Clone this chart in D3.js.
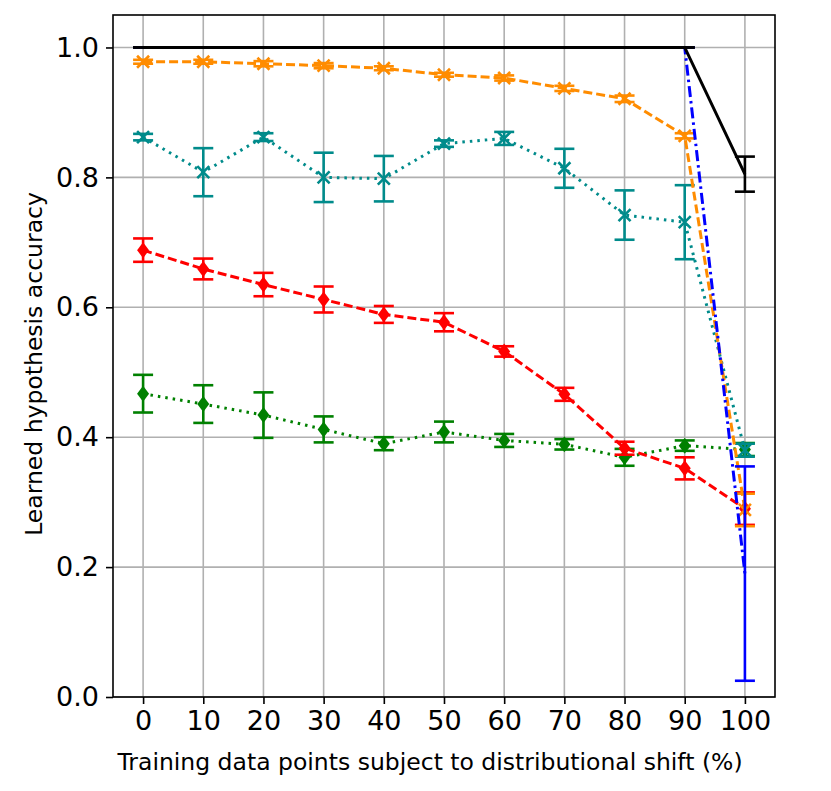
<!DOCTYPE html>
<html><head><meta charset="utf-8">
<script src="https://cdn.jsdelivr.net/npm/d3@7"></script>
<style>body{margin:0;background:#fff}</style></head>
<body><svg id="c" width="831" height="791"></svg>
<script>
"use strict";
var xs = [0, 10, 20, 30, 40, 50, 60, 70, 80, 90, 100];
var blueY = [1, 1, 1, 1, 1, 1, 1, 1, 1, 1, 0.19];
var blueE = [0, 0, 0, 0, 0, 0, 0, 0, 0, 0, 0.165];
var blackY = [1, 1, 1, 1, 1, 1, 1, 1, 1, 1, 0.805];
var blackE = [0, 0, 0, 0, 0, 0, 0, 0, 0, 0, 0.027];
var orangeY = [0.978, 0.978, 0.975, 0.972, 0.968, 0.958, 0.953, 0.937, 0.921, 0.864, 0.288];
var orangeE = [0.003, 0.003, 0.004, 0.004, 0.003, 0.003, 0.004, 0.004, 0.005, 0.004, 0.025];
var tealY = [0.862, 0.808, 0.862, 0.80, 0.798, 0.852, 0.86, 0.814, 0.742, 0.731, 0.38];
var tealE = [0.005, 0.037, 0.006, 0.038, 0.035, 0.005, 0.01, 0.03, 0.038, 0.057, 0.01];
var redY = [0.688, 0.659, 0.635, 0.612, 0.589, 0.577, 0.532, 0.466, 0.383, 0.352, 0.29];
var redE = [0.018, 0.016, 0.018, 0.02, 0.013, 0.014, 0.008, 0.01, 0.01, 0.017, 0.025];
var greenY = [0.467, 0.451, 0.434, 0.412, 0.39, 0.408, 0.395, 0.389, 0.369, 0.387, 0.381];
var greenE = [0.029, 0.029, 0.035, 0.02, 0.01, 0.016, 0.01, 0.008, 0.013, 0.008, 0.01];
var yTicks = [0, 0.2, 0.4, 0.6, 0.8, 1.0];

var series = [
  {y: greenY, e: greenE, color: "green", dash: "2.5,5", marker: "d"},
  {y: redY, e: redE, color: "red", dash: "9,4", marker: "d"},
  {y: tealY, e: tealE, color: "#008b8b", dash: "2.5,5", marker: "x"},
  {y: orangeY, e: orangeE, color: "darkorange", dash: "9,4", marker: "x"},
  {y: blueY, e: blueE, color: "blue", dash: "11,4,2.5,4", marker: null},
  {y: blackY, e: blackE, color: "black", dash: null, marker: null}
];

var L = 113, R = 775, T = 15, B = 697;
var svg = d3.select("#c");
var x = d3.scaleLinear().domain([-5, 105]).range([L, R]);
var y = d3.scaleLinear().domain([0, 1.05]).range([B, T]);
var font = "DejaVu Sans, sans-serif";

var grid = svg.append("g").attr("stroke", "#b0b0b0").attr("stroke-width", 1.6);
xs.forEach(function(v) { grid.append("line").attr("x1", x(v)).attr("x2", x(v)).attr("y1", T).attr("y2", B); });
yTicks.forEach(function(v) { grid.append("line").attr("y1", y(v)).attr("y2", y(v)).attr("x1", L).attr("x2", R); });

var clip = svg.append("clipPath").attr("id", "pc").append("rect")
  .attr("x", L).attr("y", T).attr("width", R - L).attr("height", B - T);
var plot = svg.append("g").attr("clip-path", "url(#pc)");

var line = d3.line().x(function(d, i) { return x(xs[i]); }).y(function(d) { return y(d); });
series.forEach(function(s) {
  var g = plot.append("g");
  g.append("path").attr("d", line(s.y)).attr("fill", "none")
    .attr("stroke", s.color).attr("stroke-width", 3)
    .attr("stroke-dasharray", s.dash);
  s.y.forEach(function(v, i) {
    var cx = x(xs[i]);
    var eg = g.append("g").attr("stroke", s.color).attr("stroke-width", 2.6);
    eg.append("line").attr("x1", cx).attr("x2", cx).attr("y1", y(v - s.e[i])).attr("y2", y(v + s.e[i]));
    [v - s.e[i], v + s.e[i]].forEach(function(w) {
      eg.append("line").attr("x1", cx - 10).attr("x2", cx + 10).attr("y1", y(w)).attr("y2", y(w));
    });
    var cy = y(v);
    if (s.marker === "d") {
      g.append("path").attr("d", "M" + cx + "," + (cy - 8) + "L" + (cx + 6) + "," + cy + "L" + cx + "," + (cy + 8) + "L" + (cx - 6) + "," + cy + "Z")
        .attr("fill", s.color);
    } else if (s.marker === "x") {
      g.append("path").attr("d", "M" + (cx - 6) + "," + (cy - 6) + "L" + (cx + 6) + "," + (cy + 6) + "M" + (cx - 6) + "," + (cy + 6) + "L" + (cx + 6) + "," + (cy - 6))
        .attr("stroke", s.color).attr("stroke-width", 2.6);
    }
  });
});

svg.append("rect").attr("x", L).attr("y", T).attr("width", R - L).attr("height", B - T)
  .attr("fill", "none").attr("stroke", "black").attr("stroke-width", 1.6);

var xa = svg.append("g").attr("transform", "translate(0," + B + ")")
  .call(d3.axisBottom(x).tickValues(xs).tickSize(7).tickPadding(7));
var ya = svg.append("g").attr("transform", "translate(" + L + ",0)")
  .call(d3.axisLeft(y).tickValues(yTicks).tickFormat(d3.format(".1f")).tickSize(7).tickPadding(7));
[xa, ya].forEach(function(a) {
  a.select(".domain").remove();
  a.selectAll("line").attr("stroke-width", 1.6);
  a.selectAll("text").attr("font-family", font).attr("font-size", 27).attr("fill", "black");
});

svg.append("text").attr("x", (L + R) / 2 - 14).attr("y", 770).attr("text-anchor", "middle")
  .attr("font-family", font).attr("font-size", 23.5).text("Training data points subject to distributional shift (%)");
svg.append("text").attr("transform", "translate(42," + ((T + B) / 2 + 8) + ") rotate(-90)")
  .attr("text-anchor", "middle").attr("font-family", font).attr("font-size", 23.5)
  .text("Learned hypothesis accuracy");
</script></body></html>
